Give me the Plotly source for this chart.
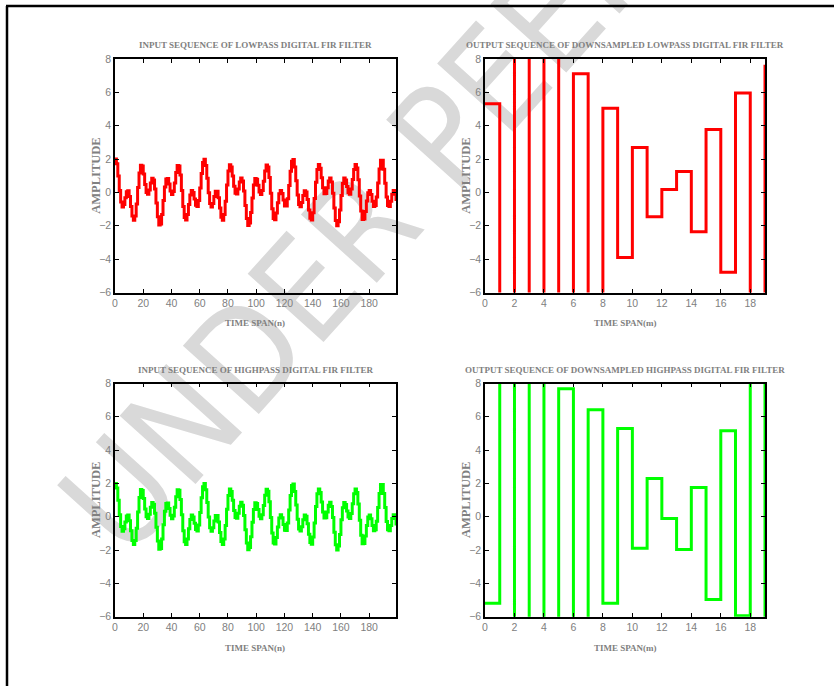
import plotly.graph_objects as go

W, H = 834, 686

# ---------------- data ----------------
n_in = list(range(200))
x_input = [
    2.00, 1.72, 0.99, 0.12, -0.58, -0.87, -0.72, -0.32, 0.04, 0.10,
    -0.24, -0.84, -1.42, -1.67, -1.42, -0.69, 0.29, 1.16, 1.63, 1.58,
    1.10, 0.47, 0.00, -0.11, 0.15, 0.57, 0.85, 0.75, 0.21, -0.63,
    -1.46, -1.95, -1.90, -1.33, -0.48, 0.33, 0.80, 0.83, 0.50, 0.09,
    -0.12, 0.05, 0.57, 1.20, 1.62, 1.59, 1.04, 0.12, -0.84, -1.50,
    -1.66, -1.33, -0.72, -0.16, 0.11, -0.01, -0.39, -0.77, -0.85, -0.49,
    0.26, 1.14, 1.80, 1.99, 1.62, 0.85, -0.02, -0.66, -0.87, -0.66,
    -0.25, 0.07, 0.07, -0.32, -0.94, -1.49, -1.67, -1.33, -0.53, 0.45,
    1.28, 1.66, 1.52, 0.99, 0.37, -0.05, -0.09, 0.21, 0.63, 0.87,
    0.69, 0.08, -0.78, -1.57, -1.98, -1.84, -1.20, -0.33, 0.44, 0.84,
    0.79, 0.43, 0.03, -0.12, 0.12, 0.67, 1.29, 1.65, 1.53, 0.90,
    -0.05, -0.98, -1.57, -1.64, -1.24, -0.62, -0.08, 0.12, -0.06, -0.46,
    -0.81, -0.82, -0.38, 0.41, 1.27, 1.87, 1.97, 1.52, 0.70, -0.15,
    -0.73, -0.86, -0.60, -0.18, 0.10, 0.03, -0.42, -1.05, -1.55, -1.65,
    -1.22, -0.37, 0.61, 1.38, 1.67, 1.45, 0.88, 0.28, -0.08, -0.06,
    0.28, 0.69, 0.87, 0.62, -0.05, -0.93, -1.68, -2.00, -1.76, -1.06,
    -0.18, 0.54, 0.86, 0.74, 0.35, -0.02, -0.11, 0.20, 0.78, 1.38,
    1.67, 1.46, 0.76, -0.21, -1.11, -1.62, -1.60, -1.15, -0.52, -0.02,
    0.11, -0.12, -0.53, -0.84, -0.78, -0.27, 0.56, 1.40, 1.93, 1.93,
    1.39, 0.55, -0.28, -0.78, -0.84, -0.53, -0.11, 0.12, -0.03, -0.52,
]
m_out = list(range(20))
y_lowpass = [5.32, -9.6, 11.4, -11.9, 10.8, -9.3, 7.12, -8.4, 5.04, -3.90,
             2.70, -1.46, 0.18, 1.26, -2.36, 3.78, -4.78, 5.96, -6.9, 7.66]
y_highpass = [-5.20, 10.5, -11.2, 11.8, -10.1, 7.69, -9.0, 6.43, -5.20, 5.30,
              -1.89, 2.29, -0.10, -1.97, 1.75, -4.96, 5.16, -5.94, 8.6, -7.3]

titles = ["INPUT SEQUENCE OF LOWPASS DIGITAL FIR FILTER",
          "OUTPUT SEQUENCE OF DOWNSAMPLED LOWPASS DIGITAL FIR FILTER",
          "INPUT SEQUENCE OF HIGHPASS DIGITAL FIR FILTER",
          "OUTPUT SEQUENCE OF DOWNSAMPLED HIGHPASS DIGITAL FIR FILTER"]
xlabels = ["TIME SPAN(n)", "TIME SPAN(m)", "TIME SPAN(n)", "TIME SPAN(m)"]
ylabel = "AMPLITUDE"
watermark = "UNDER PEER REVIEW"
in_ticks = [0, 20, 40, 60, 80, 100, 120, 140, 160, 180]
out_ticks = [0, 2, 4, 6, 8, 10, 12, 14, 16, 18]
y_ticks = [-6, -4, -2, 0, 2, 4, 6, 8]

RED = "#ff0000"
GREEN = "#00ff00"
GREY = "#808080"
SERIF = "Liberation Serif, Times New Roman, serif"
SANS = "Liberation Sans, Arial, sans-serif"
WM_FONT = "DejaVu Sans Condensed, Liberation Sans Narrow, Liberation Sans, sans-serif"

# ---------------- layout geometry (pixels) ----------------
px = lambda x: x / W
py = lambda y: 1 - y / H
cols = [(115, 396), (485, 765)]
rows = [(59, 292.5), (383.5, 616.7)]

fig = go.Figure()

series = [(n_in, x_input, RED, 3), (m_out, y_lowpass, RED, 3),
          (n_in, x_input, GREEN, 3), (m_out, y_highpass, GREEN, 3)]

layout_axes = {}
annotations = []
for i in range(4):
    r, c = divmod(i, 2)
    xs, ys, col, lw = series[i]
    k = "" if i == 0 else str(i + 1)
    fig.add_trace(go.Scatter(x=xs, y=ys, mode="lines",
                             line=dict(color=col, width=lw, shape="hv"),
                             xaxis="x" + k, yaxis="y" + k, showlegend=False,
                             hoverinfo="skip"))
    x0, x1 = cols[c]
    y0, y1 = rows[r]
    common = dict(showline=True, linecolor="black", linewidth=1.5, mirror="ticks",
                  ticks="inside", ticklen=4, tickwidth=1, tickcolor="black",
                  showgrid=False, zeroline=False, automargin=False,
                  tickfont=dict(family=SANS, size=10.5, color=GREY))
    if c == 0:
        xr, xt = [0, 199], in_ticks
    else:
        xr, xt = [0, 19], out_ticks
    layout_axes["xaxis" + k] = dict(common, domain=[px(x0), px(x1)], range=xr,
                                   tickvals=xt, anchor="y" + k)
    layout_axes["yaxis" + k] = dict(common, domain=[py(y1), py(y0)], range=[-6, 8],
                                   tickvals=y_ticks, anchor="x" + k)
    cx = (x0 + x1) / 2
    annotations.append(dict(text="<b>%s</b>" % titles[i], x=px(cx), y=py(y0 - 14),
                            xref="paper", yref="paper", showarrow=False,
                            xanchor="center", yanchor="middle",
                            font=dict(family=SERIF, size=9, color=GREY)))
    annotations.append(dict(text="<b>%s</b>" % xlabels[i], x=px(cx), y=py(y1 + 31),
                            xref="paper", yref="paper", showarrow=False,
                            xanchor="center", yanchor="middle",
                            font=dict(family=SERIF, size=9, color=GREY)))
    annotations.append(dict(text="<b>%s</b>" % ylabel, x=px(x0 - 19), y=py((y0 + y1) / 2),
                            xref="paper", yref="paper", showarrow=False, textangle=-90,
                            xanchor="center", yanchor="middle",
                            font=dict(family=SERIF, size=12.5, color=GREY)))

shapes = [
    # page frame (top and left edges)
    dict(type="line", xref="paper", yref="paper", x0=px(6), x1=1.0, y0=py(6), y1=py(6),
         line=dict(color="black", width=2.5)),
    dict(type="line", xref="paper", yref="paper", x0=px(7), x1=px(7), y0=py(6), y1=0,
         line=dict(color="black", width=2.5)),
    # watermark
    dict(type="line", xref="paper", yref="paper", layer="below",
         x0=px(532), x1=px(534), y0=py(22), y1=py(22),
         line=dict(color="rgba(0,0,0,0)", width=0),
         label=dict(text=watermark, textangle=-48, textposition="middle",
                    xanchor="center", yanchor="middle",
                    font=dict(family=WM_FONT, size=140, color="#d9d9d9"))),
]

fig.update_layout(width=W, height=H,
                  margin=dict(l=0, r=0, t=0, b=0, autoexpand=False),
                  paper_bgcolor="white", plot_bgcolor="rgba(0,0,0,0)",
                  annotations=annotations, shapes=shapes, **layout_axes)

fig.write_html("out.html", config={"displayModeBar": False},
               post_script="document.body.style.margin='0px';document.body.style.overflow='hidden';")
